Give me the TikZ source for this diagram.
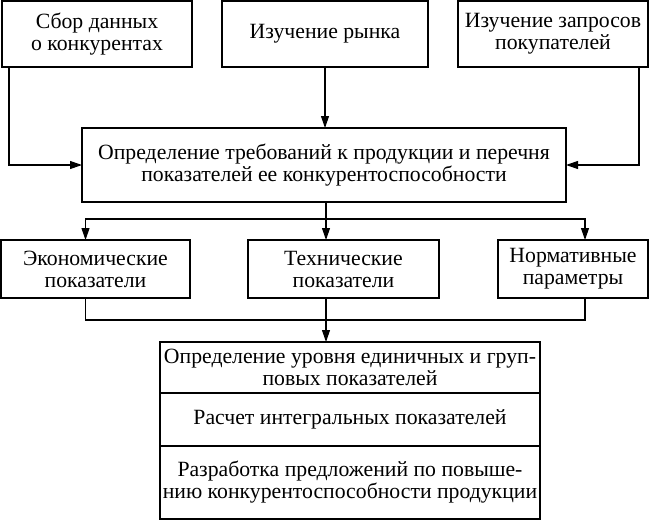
\documentclass[tikz,border=0pt]{standalone}
\usepackage{fontspec}
\setmainfont{Liberation Serif}
\newfontfamily\timesfont{Liberation Serif}
\usetikzlibrary{arrows.meta,positioning}
\tikzset{
  block/.style={draw, line width=0.8pt, align=center, inner sep=2pt, outer sep=0pt,
    font=\timesfont\fontsize{16.3}{16.5}\selectfont},
  arr/.style={-{Triangle[length=9pt,width=6pt]}, line width=0.8pt},
  link/.style={line width=0.8pt},
}
\begin{document}
\begin{tikzpicture}[x=0.75pt,y=-0.75pt]
    \useasboundingbox (0,0) rectangle (650,521);
    % sources
    \node[block, minimum width=142.5pt, minimum height=49.5pt] (sbor) at (97,34) {Сбор данных\\о конкурентах};
    \node[block, minimum width=154.5pt, minimum height=49.5pt] (rynok) at (325,34) {Изучение рынка};
    \node[block, minimum width=142.5pt, minimum height=49.5pt] (zapros) at (553,34) {Изучение запросов\\покупателей};
    \node[block, minimum width=363pt, minimum height=55.5pt] (trebov) at (324,165) {Определение требований к продукции и перечня\\показателей ее конкурентоспособности};

    % groups of indicators
    \node[block, minimum width=141.75pt, minimum height=43.5pt] (ekon) at (95.5,269) {Экономические\\показатели};
    \node[block, minimum width=143.25pt, minimum height=43.5pt] (tekh) at (343.5,269) {Технические\\показатели};
    \node[block, minimum width=112.5pt, minimum height=43.5pt] (norm) at (573,269) {Нормативные\\параметры};

    % evaluation
    \node[block, minimum width=285pt, minimum height=38.25pt] (uroven) at (350,367.5) {Определение уровня единичных и груп-\\повых показателей};
    \node[block, minimum width=285pt, minimum height=39.75pt] (raschet) [below=0pt of uroven] {Расчет интегральных показателей};
    \node[block, minimum width=285pt, minimum height=54.75pt] (razrab) [below=0pt of raschet] {Разработка предложений по повыше-\\нию конкурентоспособности продукции};

    \draw[arr] ([xshift=5.25pt]sbor.south west) |- (trebov.west);
    \draw[arr] (rynok.south) -- (rynok.south |- trebov.north);
    \draw[arr] ([xshift=-6.75pt]zapros.south east) |- (trebov.east);

    \coordinate (razv) at (326,219);
    \draw[arr] (trebov.south -| razv) -- (razv |- tekh.north);
    \draw[arr] (razv) -| ([xshift=-7.5pt]ekon.north);
    \draw[arr] (razv) -| ([xshift=9pt]norm.north);

    \coordinate (sbor2) at (326,320);
    \draw[link] ([xshift=-7.5pt]ekon.south) |- (sbor2);
    \draw[link] ([xshift=9pt]norm.south) |- (sbor2);
    \draw[arr] (tekh.south -| sbor2) -- (sbor2 |- uroven.north);
\end{tikzpicture}
\end{document}
